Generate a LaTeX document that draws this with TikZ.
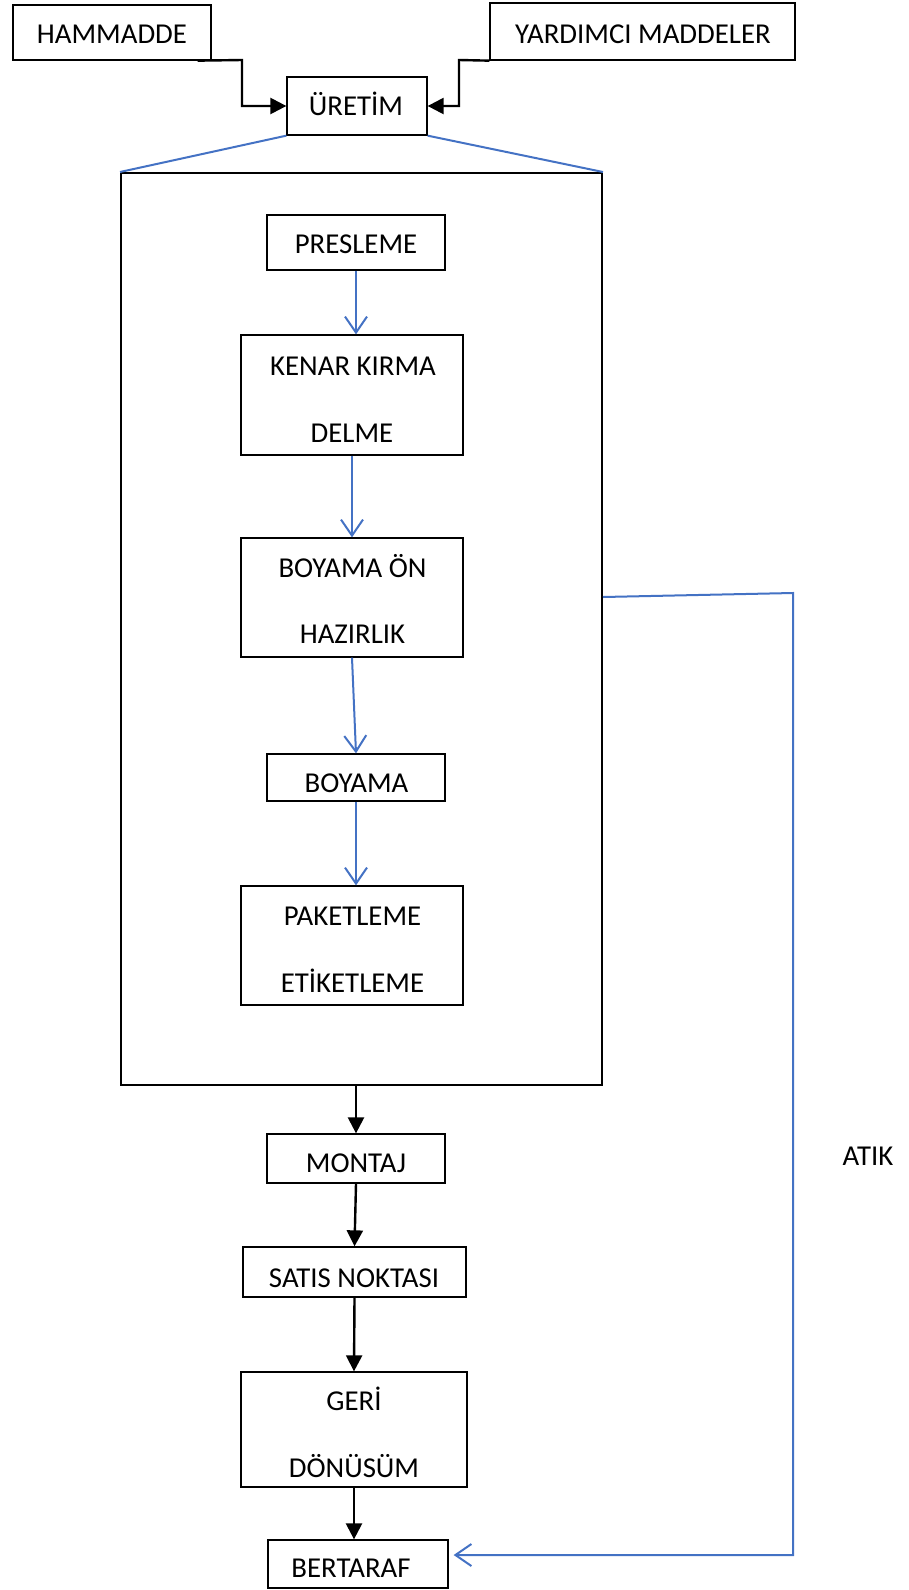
\documentclass[tikz,border=0pt]{standalone}
\usepackage{fontspec}
\setmainfont{Carlito}
\usetikzlibrary{arrows.meta,calc}
\definecolor{flowblue}{RGB}{68,114,196}
\tikzset{
  box/.style={draw=black, line width=1.3pt, rectangle, inner sep=0pt},
  frame/.style={draw=black, line width=2pt, rectangle, inner sep=0pt},
  lbl/.style={anchor=base, inner sep=0pt, font=\fontsize{28.8}{34}\selectfont},
  blk/.style={draw=black, line width=2.4pt, -{Triangle[length=16pt,width=16pt]}},
  blu/.style={draw=flowblue, line width=2pt, -{Straight Barb[length=16pt,width=22pt]}},
  bluline/.style={draw=flowblue, line width=2pt}
}
\begin{document}
\begin{tikzpicture}[x=1pt,y=-1pt]
\useasboundingbox (0,0) rectangle (909,1590);

% boxes
\node[box, minimum width=198pt, minimum height=55pt] (ham) at (112,32.5) {};
\node[box, minimum width=305pt, minimum height=57pt] (yard) at (642.5,31.5) {};
\node[box, minimum width=140pt, minimum height=58pt] (uret) at (357,106) {};
\node[frame, minimum width=481pt, minimum height=912pt] (big) at (361.5,629) {};
\node[box, minimum width=178pt, minimum height=55pt] (pres) at (356,242.5) {};
\node[box, minimum width=222pt, minimum height=120pt] (kenar) at (352,395) {};
\node[box, minimum width=222pt, minimum height=119pt] (boyon) at (352,597.5) {};
\node[box, minimum width=178pt, minimum height=47pt] (boyama) at (356,777.5) {};
\node[box, minimum width=222pt, minimum height=119pt] (paket) at (352,945.5) {};
\node[box, minimum width=178pt, minimum height=49pt] (montaj) at (356,1158.5) {};
\node[box, minimum width=223pt, minimum height=50pt] (satis) at (354.5,1272) {};
\node[box, minimum width=226pt, minimum height=115pt] (geri) at (354,1429.5) {};
\node[box, minimum width=180pt, minimum height=48pt] (bert) at (358,1564) {};

% labels
\node[lbl] (tHam) at (112,43) {HAMMADDE};
\node[lbl] (tYard) at (643,43) {YARDIMCI MADDELER};
\node[lbl] (tUret) at (356,115) {ÜRETİM};
\node[lbl] (tPres) at (356,253) {PRESLEME};
\node[lbl] (tKenar) at (353,375) {KENAR KIRMA};
\node[lbl] (tDelme) at (352,442) {DELME};
\node[lbl] (tBoyOn) at (352.5,577) {BOYAMA ÖN};
\node[lbl] (tHaz) at (352.5,643) {HAZIRLIK};
\node[lbl] (tBoy) at (356.5,792) {BOYAMA};
\node[lbl] (tPaket) at (352.5,925) {PAKETLEME};
\node[lbl] (tEtiket) at (352.5,992) {ETİKETLEME};
\node[lbl] (tMontaj) at (356,1172) {MONTAJ};
\node[lbl] (tSatis) at (354,1287) {SATIS NOKTASI};
\node[lbl] (tGeri) at (354,1410) {GERİ};
\node[lbl] (tDonusum) at (354,1477) {DÖNÜSÜM};
\node[lbl] (tBert) at (351,1577) {BERTARAF};
\node[lbl] (tAtik) at (868,1165) {ATIK};

% inputs into production
\draw[blk] ([xshift=-14pt]ham.south east) -- (242,60) |- (uret.west);
\draw[blk] (yard.south west) -- (459,60) |- (uret.east);

% production detail frame
\draw[bluline] (uret.south west) -- (big.north west);
\draw[bluline] (uret.south east) -- (big.north east);

% inner process chain
\draw[blu] (pres.south) -- (pres.south |- kenar.north);
\draw[blu] (kenar.south) -- (boyon.north);
\draw[blu] (boyon.south) -- (boyama.north);
\draw[blu] (boyama.south) -- (boyama.south |- paket.north);

% downstream chain
\draw[blk] (montaj.north |- big.south) -- (montaj.north);
\draw[blk] (montaj.south) -- (satis.north);
\draw[blk] (satis.south) -- (geri.north);
\draw[blk] (geri.south) -- (geri.south |- bert.north);

% waste line
\coordinate (atikStart) at ($(big.east)+(0,-32)$);
\coordinate (atikTop) at (793,593);
\coordinate (atikTip) at ($(bert.east)+(5,-9)$);
\coordinate (atikBot) at (atikTop |- atikTip);
\draw[blu] (atikStart) -- (atikTop) -- (atikBot) -- (atikTip);
\end{tikzpicture}
\end{document}
